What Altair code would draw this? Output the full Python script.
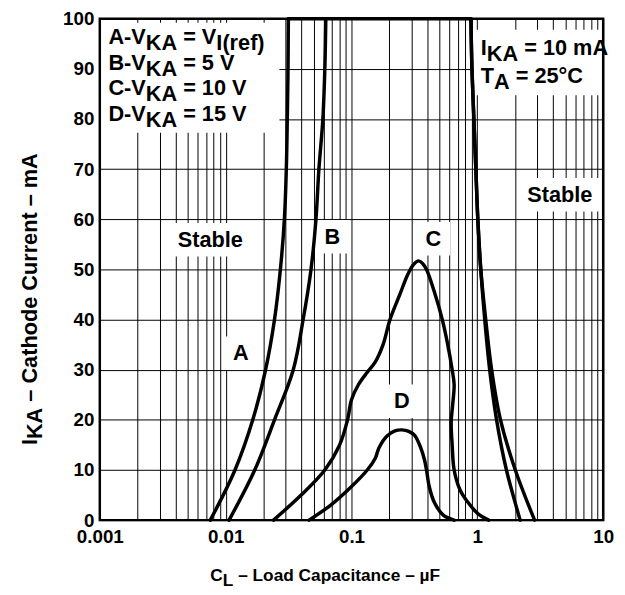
import json
import altair as alt
import pandas as pd

# ---------------- data ----------------
# curve A (V_KA = Vref): left rising branch and right falling branch
a_left_x = [0.00755, 0.01187, 0.01643, 0.02078, 0.02445, 0.02723, 0.02929, 0.03035, 0.0309, 0.0313, 0.0315]
a_left_y = [0, 10, 20, 30, 40, 50, 60, 70, 80, 90, 100]
a_right_x = [0.889, 0.906, 0.939, 0.973, 1.009, 1.065, 1.166, 1.299, 1.528, 2.003, 2.85]
a_right_y = [100, 90, 80, 70, 60, 50, 40, 30, 20, 10, 0]

# curve B (V_KA = 5 V)
b_left_x = [0.01065, 0.01703, 0.02445, 0.03447, 0.04128, 0.04767, 0.05219, 0.05509, 0.05922, 0.0614, 0.0625]
b_left_y = [0, 10, 20, 30, 40, 50, 60, 70, 80, 90, 100]
b_right_x = [0.889, 0.906, 0.939, 0.973, 1.009, 1.065, 1.145, 1.253, 1.422, 1.703, 2.19]
b_right_y = [100, 90, 80, 70, 60, 50, 40, 30, 20, 10, 0]

# curve C (V_KA = 10 V)
c_x = [0.02401, 0.03981, 0.0614, 0.0805, 0.09302, 0.1, 0.1134, 0.1335, 0.1542, 0.1782, 0.2023, 0.2423,
       0.28, 0.312, 0.3414, 0.367, 0.3945, 0.4558, 0.5268, 0.5766, 0.631, 0.6542, 0.6367, 0.6197,
       0.631, 0.6542, 0.7291, 0.8273, 1.009, 1.231]
c_y = [0, 5, 10, 15, 20, 24, 27, 29.5, 31.5, 35, 40, 45,
       49, 51, 51.7, 51.2, 50, 45.5, 40, 35.5, 30, 27, 23, 19.5,
       15, 10, 6, 3.8, 1.3, 0]

# curve D (V_KA = 15 V)
d_x = [0.04599, 0.06844, 0.0982, 0.1335, 0.1542, 0.1658, 0.1916, 0.2214, 0.2512, 0.285, 0.3177,
       0.354, 0.3805, 0.3945, 0.4165, 0.4558, 0.5364, 0.6542]
d_y = [0, 3, 6.5, 10, 12.3, 14.5, 16.8, 17.8, 18, 17.7, 16.9,
       14.5, 12, 10, 6.5, 3.5, 1, 0]

x_grid_values = [0.001, 0.002, 0.003, 0.004, 0.005, 0.006, 0.007, 0.008, 0.009,
                 0.01, 0.02, 0.03, 0.04, 0.05, 0.06, 0.07, 0.08, 0.09,
                 0.1, 0.2, 0.3, 0.4, 0.5, 0.6, 0.7, 0.8, 0.9,
                 1, 2, 3, 4, 5, 6, 7, 8, 9, 10]
x_tick_labels = ["0.001", "0.01", "0.1", "1", "10"]
y_tick_values = [0, 10, 20, 30, 40, 50, 60, 70, 80, 90, 100]

X_DOMAIN = [0.001, 10]
Y_DOMAIN = [0, 100]

# ---------------- styling ----------------
FONT = "Liberation Sans"
W_PLOT, H_PLOT = 510, 508
PX_PER_DECADE = W_PLOT / 4.0
PX_PER_UNIT = H_PLOT / 100.0
ANN_SIZE = 22
TICK_SIZE = 19
XTITLE_SIZE = 17.5
YTITLE_SIZE = 22
SUB_DY = 6

# Arial/Liberation Sans Bold advance widths (per 1000 em)
WID = {' ': 278, '-': 333, '(': 333, ')': 333, '.': 278, '=': 584, '°': 400, '–': 556, 'µ': 611,
       'A': 722, 'B': 722, 'C': 722, 'D': 722, 'F': 611, 'I': 278, 'K': 722, 'L': 611, 'S': 667,
       'T': 611, 'V': 667, 'a': 556, 'b': 611, 'c': 556, 'd': 611, 'e': 556, 'f': 333, 'h': 611,
       'i': 278, 'l': 278, 'm': 889, 'n': 611, 'o': 611, 'p': 611, 'r': 389, 't': 333, 'u': 611}
for _d in "0123456789":
    WID[_d] = 556


def tw(s, size):
    return sum(WID.get(ch, 556) for ch in s) * size / 1000.0


def x_shift(x, px):
    """move a log-scale data x by a number of pixels"""
    return x * 10 ** (px / PX_PER_DECADE)


def y_shift(y, px):
    """move a data y up by a number of pixels"""
    return y + px / PX_PER_UNIT


branches = [
    ("A-left", a_left_x, a_left_y),
    ("A-top", [a_left_x[-1], a_right_x[0]], [a_left_y[-1], a_right_y[0]]),
    ("A-right", a_right_x, a_right_y),
    ("B-left", b_left_x, b_left_y),
    ("B-right", b_right_x, b_right_y),
    ("C", c_x, c_y),
    ("D", d_x, d_y),
]
rows = []
for name, xs, ys in branches:
    for i, (xv, yv) in enumerate(zip(xs, ys)):
        rows.append({"curve": name, "i": i, "x": xv, "y": yv})
df = pd.DataFrame(rows)

xscale = alt.Scale(type="log", domain=X_DOMAIN, nice=False)
yscale = alt.Scale(domain=Y_DOMAIN, nice=False)

label_expr = ("indexof(%s, format(datum.value, '~g')) >= 0 ? format(datum.value, '~g') : ''"
              % json.dumps(x_tick_labels))

common_axis = dict(grid=True, ticks=False, domain=False, labelFont=FONT, labelFontSize=TICK_SIZE,
                   labelFontWeight="bold", labelColor="black", gridColor="black", gridWidth=1,
                   gridOpacity=1, labelOverlap=False, zindex=0)
X_AXIS = alt.Axis(values=x_grid_values, labelExpr=label_expr, labelPadding=8, labelFlush=False,
                  **common_axis)
Y_AXIS = alt.Axis(values=y_tick_values, labelPadding=6, **common_axis)


def xenc(field="x"):
    return alt.X(field + ":Q", scale=xscale, axis=X_AXIS, title=None)


def yenc(field="y"):
    return alt.Y(field + ":Q", scale=yscale, axis=Y_AXIS, title=None)


curves = alt.Chart(df).mark_line(
    color="black", strokeWidth=3.5, interpolate="catmull-rom", strokeJoin="round", strokeCap="round"
).encode(x=xenc(), y=yenc(), detail="curve:N", order="i:Q")

# ---------------- annotations (data coordinates) ----------------
segments = []
boxes = []


def add_block(x, ys, lines, size=ANN_SIZE, box_left=None, box_right=None, top_px=22,
              bottom_px=12, pad_right=10):
    widths = []
    for y, parts in zip(ys, lines):
        off = 0.0
        for text, sub in parts:
            lead = len(text) - len(text.lstrip(" "))
            off += tw(" " * lead, size)
            segments.append({"x": x, "y": y, "t": text.strip(" "), "dx": off,
                             "dy": SUB_DY if sub else 0, "size": size,
                             "align": "left", "baseline": "alphabetic"})
            off += tw(text.lstrip(" "), size)
        widths.append(off)
    x1 = box_left if box_left is not None else x_shift(x, -7)
    x2 = box_right if box_right is not None else x_shift(x, max(widths) + pad_right)
    y1 = min(y_shift(ys[0], top_px), Y_DOMAIN[1] - 0.8)
    y2 = y_shift(ys[-1], -bottom_px)
    boxes.append({"x1": x1, "x2": x2, "y1": y1, "y2": y2})


def add_center(x, y, text, size=ANN_SIZE, padx=9, pady=17):
    segments.append({"x": x, "y": y, "t": text, "dx": 0, "dy": 0, "size": size,
                     "align": "center", "baseline": "middle"})
    half = tw(text, size) / 2 + padx
    boxes.append({"x1": x_shift(x, -half), "x2": x_shift(x, half),
                  "y1": y_shift(y, pady), "y2": y_shift(y, -pady)})


leg_x = 0.00117
add_block(leg_x, [94.9, 89.8, 84.7, 79.6], [
    [("A-V", False), ("KA", True), (" = V", False), ("I(ref)", True)],
    [("B-V", False), ("KA", True), (" = 5 V", False)],
    [("C-V", False), ("KA", True), (" = 10 V", False)],
    [("D-V", False), ("KA", True), (" = 15 V", False)],
], box_left=X_DOMAIN[0], pad_right=15)
add_block(1.065, [92.7, 87.1], [
    [("I", False), ("KA", True), (" = 10 mA", False)],
    [("T", False), ("A", True), (" = 25°C", False)],
], box_right=X_DOMAIN[1], top_px=26)
add_center(0.00755, 55.9, "Stable")
add_center(4.52, 64.9, "Stable")
add_center(0.01323, 33.3, "A")
add_center(0.0706, 56.5, "B")
add_center(0.4477, 56.1, "C")
add_center(0.2512, 23.7, "D")

box_layer = alt.Chart(pd.DataFrame(boxes)).mark_rect(color="white").encode(
    x=xenc("x1"), x2="x2:Q", y=yenc("y1"), y2="y2:Q")

texts = []
for seg in segments:
    base = alt.Chart(pd.DataFrame([{"x": seg["x"], "y": seg["y"], "t": seg["t"]}]))
    texts.append(base.mark_text(
        color="black", align=seg["align"], baseline=seg["baseline"], dx=seg["dx"], dy=seg["dy"],
        font=FONT, fontSize=seg["size"], fontWeight="bold"
    ).encode(x=xenc(), y=yenc(), text="t:N"))

frame = alt.Chart(pd.DataFrame({"a": [0]})).mark_rect(
    fill="transparent", stroke="black", strokeWidth=2.5
).encode(x=alt.value(0), x2=alt.value(W_PLOT), y=alt.value(0), y2=alt.value(H_PLOT))

# ---------------- axis titles with subscripts (pixel positions) ----------------
titles = []


def add_title(px, py, parts, size, angle=0):
    off = 0.0
    for text, sub in parts:
        lead = len(text) - len(text.lstrip(" "))
        off += tw(" " * lead, size)
        kw = dict(align="left", baseline="alphabetic", dx=off, dy=SUB_DY - 1 if sub else 0,
                  font=FONT, fontSize=size, fontWeight="bold", color="black")
        if angle:
            kw["angle"] = angle
        titles.append(alt.Chart(pd.DataFrame({"t": [text.strip(" ")]})).mark_text(**kw).encode(
            x=alt.value(px), y=alt.value(py), text="t:N"))
        off += tw(text.lstrip(" "), size)


add_title(-64, 432, [("I", False), ("KA", True), (" – Cathode Current – mA", False)],
          YTITLE_SIZE, angle=270)
add_title(112, 570, [("C", False), ("L", True), (" – Load Capacitance – µF", False)], XTITLE_SIZE)

chart = alt.layer(box_layer, curves, *texts, frame, *titles).properties(
    width=W_PLOT, height=H_PLOT,
    autosize=alt.AutoSizeParams(type="none"),
    padding={"left": 93, "top": 7, "right": 14, "bottom": 72},
).configure_view(strokeWidth=0)

chart.save("out.html", embed_options={"renderer": "svg", "actions": False})
